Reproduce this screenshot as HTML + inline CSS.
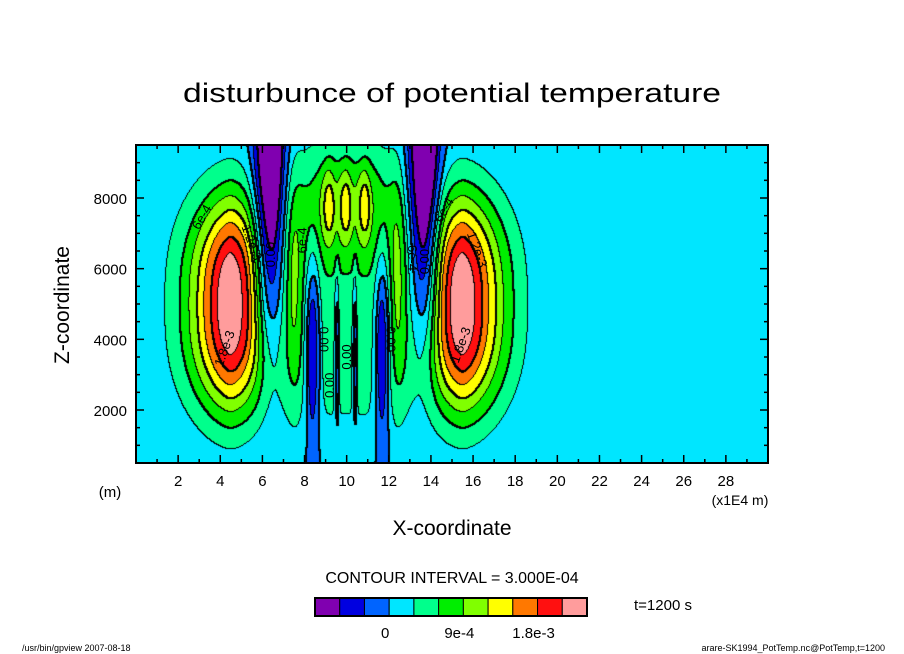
<!DOCTYPE html>
<html><head><meta charset="utf-8"><style>
html,body{margin:0;padding:0;background:#fff;}
#wrap{position:relative;width:904px;height:654px;overflow:hidden;font-family:"Liberation Sans",sans-serif;}
svg text{font-family:"Liberation Sans",sans-serif;}
</style></head><body>
<div id="wrap">
<svg id="svg" width="904" height="654" viewBox="0 0 904 654" xmlns="http://www.w3.org/2000/svg">
  <text x="452" y="102" text-anchor="middle" font-size="27" textLength="538" lengthAdjust="spacingAndGlyphs">disturbunce of potential temperature</text>
  <foreignObject x="136" y="145" width="632" height="318">
    <canvas id="cv" width="632" height="318" xmlns="http://www.w3.org/1999/xhtml" style="display:block"></canvas>
  </foreignObject>
  <g id="labels"></g>
  <rect x="136" y="145" width="632" height="318" fill="none" stroke="#000" stroke-width="2"/>
  <g id="ticks"></g>
  <g id="xlabels"></g>
  <g id="ylabels"></g>
  <text x="110" y="497" text-anchor="middle" font-size="15">(m)</text>
  <text x="740" y="505" text-anchor="middle" font-size="14">(x1E4 m)</text>
  <text x="452" y="535" text-anchor="middle" font-size="21">X-coordinate</text>
  <text transform="translate(69,305) rotate(-90)" text-anchor="middle" font-size="21">Z-coordinate</text>
  <text x="452" y="583" text-anchor="middle" font-size="16">CONTOUR INTERVAL = 3.000E-04</text>
  <g id="cbar"></g>
  <text x="634" y="610" font-size="15">t=1200 s</text>
  <text x="22" y="651" font-size="9">/usr/bin/gpview   2007-08-18</text>
  <text x="885" y="651" text-anchor="end" font-size="9">arare-SK1994_PotTemp.nc@PotTemp,t=1200</text>
</svg>
</div>
<script>
// field components: centers in x (1e4 m) and z (m), amplitudes, widths
const compX   = [4.5, 15.5, 6.35, 13.7, 10.0, 10.0, 9.15, 9.95, 10.85, 7.5, 12.45, 8.4, 9.55, 10.4, 11.7];
const compZ   = [5000,5000,8000,8000, 5000, 8000, 7800, 7800, 7800, 5800, 5800, 3800, 3700, 3700, 3800];
const compAmp = [2.45e-3,2.45e-3,-1.5e-3,-1.5e-3, 4.2e-4, 5.5e-4, 5.5e-4, 5.5e-4, 5.5e-4, 4.5e-4, 4.5e-4, -1.1e-3, -0.8e-3, -0.8e-3, -1.1e-3];
const compSx  = [1.96,1.96,0.7,0.7, 3.0, 2.3, 0.3,0.3,0.3, 0.4,0.4, 0.35,0.1,0.1,0.35];
const compQx  = [1.6,1.6,2,2, 4,4, 2,2,2, 2,2, 2,2,2,2];
const compSz  = [3060,3060,4500,4500, 4000,1800, 1100,1100,1100, 3200,3200, 2600,2000,2000,2600];
const compQz  = [2.5,2.5,3,3, 4,2, 2,2,2, 2,2, 2,2,2,2];
// colour levels
const levels = [-6e-4,-3e-4,0,3e-4,6e-4,9e-4,1.2e-3,1.5e-3,1.8e-3,2.1e-3];
const colors = ["#8000b0","#0000e0","#0064ff","#00e6ff","#00ff8c","#00ee00","#80ff00","#ffff00","#ff7800","#ff1010","#ff9c9c"];
const xTicks = [2,4,6,8,10,12,14,16,18,20,22,24,26,28];
const yTicks = [2000,4000,6000,8000];
const cbLabels = ["0","9e-4","1.8e-3"];
const cbLabelIdx = [3,6,9];

const PX0=136, PY0=145, PW=632, PH=318;
const xMin=0,xMax=30,zMin=500,zMax=9500;
function sx(v){return PX0+(v-xMin)/(xMax-xMin)*PW;}
function sy(v){return PY0+PH-(v-zMin)/(zMax-zMin)*PH;}
function field(x,z){
  let s=0;
  for(let i=0;i<compX.length;i++){
    const dx=Math.abs(x-compX[i])/compSx[i], dz=Math.abs(z-compZ[i])/compSz[i];
    s+=compAmp[i]*Math.exp(-Math.pow(dx,compQx[i])-Math.pow(dz,compQz[i]));
  }
  return s;
}
function lev(v){let k=0;while(k<levels.length&&v>=levels[k])k++;return k;}
const cv=document.getElementById('cv');const ctx=cv.getContext('2d');
const img=ctx.createImageData(PW,PH);
const L=new Int8Array(PW*PH);
for(let j=0;j<PH;j++){const z=zMax-(j+0.5)/PH*(zMax-zMin);
  for(let i=0;i<PW;i++){const x=xMin+(i+0.5)/PW*(xMax-xMin);L[j*PW+i]=lev(field(x,z));}}
function hex(c){return [parseInt(c.substr(1,2),16),parseInt(c.substr(3,2),16),parseInt(c.substr(5,2),16)];}
const rgb=colors.map(hex);
for(let p=0;p<PW*PH;p++){const c=rgb[L[p]];img.data[p*4]=c[0];img.data[p*4+1]=c[1];img.data[p*4+2]=c[2];img.data[p*4+3]=255;}
function setBlack(i,j){if(i<0||j<0||i>=PW||j>=PH)return;const p=(j*PW+i)*4;img.data[p]=0;img.data[p+1]=0;img.data[p+2]=0;}
for(let j=0;j<PH;j++)for(let i=0;i<PW;i++){
  const a=L[j*PW+i];
  const r=i+1<PW?L[j*PW+i+1]:a, d=j+1<PH?L[(j+1)*PW+i]:a;
  if(a!==r||a!==d){
    setBlack(i,j);
    const b=Math.max(a,a!==r?r:d)-1;
    if(b>=0&&(b-2)%2===0){setBlack(i+1,j);setBlack(i,j+1);setBlack(i+1,j+1);}
  }
}
ctx.putImageData(img,0,0);
const NS="http://www.w3.org/2000/svg";
const tg=document.getElementById('ticks');
function line(x1,y1,x2,y2,w){const l=document.createElementNS(NS,'line');l.setAttribute('x1',x1);l.setAttribute('y1',y1);l.setAttribute('x2',x2);l.setAttribute('y2',y2);l.setAttribute('stroke','#000');l.setAttribute('stroke-width',w);


tg.appendChild(l);}
for(let v=1;v<30;v++){const x=sx(v),len=v%2===0?8:4;line(x,PY0+PH,x,PY0+PH-len,1.5);line(x,PY0,x,PY0+len,1.5);}
for(let v=1000;v<9500;v+=500){const y=sy(v),len=v%2000===0?8:4;line(PX0,y,PX0+len,y,1.5);line(PX0+PW,y,PX0+PW-len,y,1.5);}
const xl=document.getElementById('xlabels');
xTicks.forEach(v=>{const t=document.createElementNS(NS,'text');t.setAttribute('x',sx(v));t.setAttribute('y',486);t.setAttribute('text-anchor','middle');t.setAttribute('font-size','15');t.textContent=v;


xl.appendChild(t);});
const yl=document.getElementById('ylabels');
yTicks.forEach(v=>{const t=document.createElementNS(NS,'text');t.setAttribute('x',127);t.setAttribute('y',sy(v)+6);t.setAttribute('text-anchor','end');t.setAttribute('font-size','15');t.textContent=v;


yl.appendChild(t);});
const cb=document.getElementById('cbar');const cbx=315,cby=598,cbw=272,cbh=18,bw=cbw/colors.length;
colors.forEach((c,k)=>{const r=document.createElementNS(NS,'rect');r.setAttribute('x',cbx+k*bw);r.setAttribute('y',cby);r.setAttribute('width',bw);r.setAttribute('height',cbh);r.setAttribute('fill',c);r.setAttribute('stroke','#000');r.setAttribute('stroke-width','1');


cb.appendChild(r);});
const fr=document.createElementNS(NS,'rect');fr.setAttribute('x',cbx);fr.setAttribute('y',cby);fr.setAttribute('width',cbw);fr.setAttribute('height',cbh);fr.setAttribute('fill','none');fr.setAttribute('stroke','#000');fr.setAttribute('stroke-width','2');


cb.appendChild(fr);
cbLabels.forEach((s,k)=>{const t=document.createElementNS(NS,'text');t.setAttribute('x',cbx+cbLabelIdx[k]*bw-4);t.setAttribute('y',638);t.setAttribute('text-anchor','middle');t.setAttribute('font-size','15');t.textContent=s;


cb.appendChild(t);});
const lbl=document.getElementById('labels');
const cl=[["6e-4",3.3,7400,-60],["1.2e-3",5.3,6700,70],["1.8e-3",4.4,3700,-70],["0.00",6.6,6400,-90],["6e-4",8.1,6800,-90],["0.00",8.7,4000,90],["0.00",9.4,2700,-90],["0.00",10.2,3500,-90],["0.00",11.9,4000,90],["6e-4",12.9,6300,90],["0.00",13.9,6200,-90],["6e-4",14.8,7600,-60],["1.2e-3",16.0,6500,70],["1.8e-3",15.6,3800,-70]];
cl.forEach(a=>{const t=document.createElementNS(NS,'text');t.setAttribute('transform','translate('+sx(a[1])+','+sy(a[2])+') rotate('+a[3]+')');t.setAttribute('text-anchor','middle');t.setAttribute('font-size','13');t.textContent=a[0];


lbl.appendChild(t);});
</script>
</body></html>
